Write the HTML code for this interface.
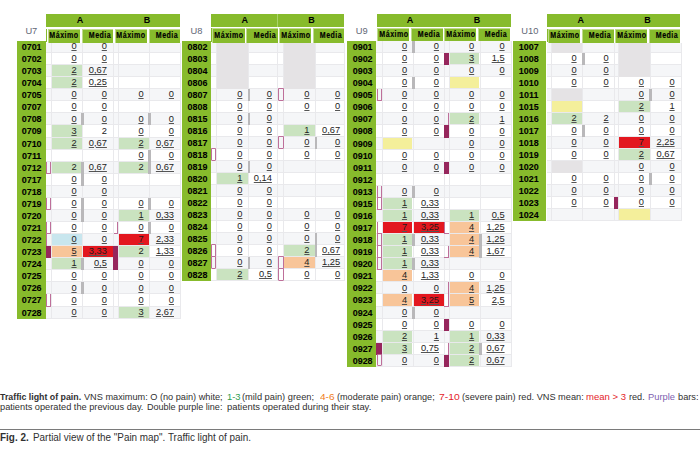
<!DOCTYPE html>
<html><head><meta charset="utf-8"><style>
html,body{margin:0;padding:0;background:#fff;width:700px;height:451px;overflow:hidden;}
body{position:relative;font-family:"Liberation Sans",sans-serif;}
body div{position:absolute;box-sizing:border-box;white-space:nowrap;}
.h1{font-weight:bold;font-size:9px;line-height:10px;color:#000;}
.h2{font-weight:bold;font-size:8.5px;line-height:10px;color:#000;transform:scaleX(0.83);letter-spacing:0.6px;-webkit-text-stroke:0.15px #000;}
.un{font-size:9.3px;line-height:11px;color:#5f6675;}
.lb{font-weight:bold;font-size:9.6px;line-height:10px;color:#000;letter-spacing:0px;-webkit-text-stroke:0.1px #000;transform:scaleX(0.93);}
.v{font-size:9.3px;line-height:10px;color:#1c1c1c;text-decoration:underline;text-decoration-color:#555;}
.v.nu{text-decoration:none;}
.cap{line-height:11px;color:#303030;}
</style></head><body>
<div style="left:46.00px;top:14.00px;width:134.00px;height:12.70px;background:#87bb2c;"></div>
<div class="h1" style="left:46.00px;top:15.20px;width:68.00px;text-align:center;">A</div>
<div class="h1" style="left:114.00px;top:15.20px;width:66.00px;text-align:center;">B</div>
<div style="left:46.00px;top:28.60px;width:1.00px;height:13.50px;background:#87bb2c;"></div>
<div style="left:47.80px;top:28.60px;width:32.20px;height:14.00px;background:#87bb2c;box-shadow:inset 1px 1px 0 rgba(235,245,215,0.55);"></div>
<div class="h2" style="left:44.30px;top:30.10px;width:40.00px;text-align:center;">M&aacute;ximo</div>
<div style="left:81.70px;top:28.60px;width:31.30px;height:14.00px;background:#87bb2c;box-shadow:inset 1px 1px 0 rgba(235,245,215,0.55);"></div>
<div class="h2" style="left:79.85px;top:30.10px;width:40.00px;text-align:center;">Media</div>
<div style="left:115.00px;top:28.60px;width:31.80px;height:14.00px;background:#87bb2c;box-shadow:inset 1px 1px 0 rgba(235,245,215,0.55);"></div>
<div class="h2" style="left:111.30px;top:30.10px;width:40.00px;text-align:center;">M&aacute;ximo</div>
<div style="left:148.60px;top:28.60px;width:31.40px;height:14.00px;background:#87bb2c;box-shadow:inset 1px 1px 0 rgba(235,245,215,0.55);"></div>
<div class="h2" style="left:146.80px;top:30.10px;width:40.00px;text-align:center;">Media</div>
<div class="un" style="left:16.70px;top:25.60px;width:29.30px;text-align:center;">U7</div>
<div style="left:16.70px;top:41.00px;width:29.30px;height:277.61px;background:#87bb2c;"></div>
<div style="left:46.00px;top:42.60px;width:134.00px;height:9.47px;background:#f5f6f8;"></div>
<div style="left:46.00px;top:52.07px;width:134.00px;height:1.00px;background:#e9e9ec;"></div>
<div class="lb" style="left:17.20px;top:42.00px;width:29.30px;text-align:center;">0701</div>
<div style="left:46.00px;top:64.14px;width:134.00px;height:1.00px;background:#e9e9ec;"></div>
<div class="lb" style="left:17.20px;top:54.07px;width:29.30px;text-align:center;">0702</div>
<div style="left:46.00px;top:65.14px;width:134.00px;height:11.07px;background:#f5f6f8;"></div>
<div style="left:46.00px;top:76.21px;width:134.00px;height:1.00px;background:#e9e9ec;"></div>
<div class="lb" style="left:17.20px;top:66.14px;width:29.30px;text-align:center;">0703</div>
<div style="left:46.00px;top:88.28px;width:134.00px;height:1.00px;background:#e9e9ec;"></div>
<div class="lb" style="left:17.20px;top:78.21px;width:29.30px;text-align:center;">0704</div>
<div style="left:46.00px;top:89.28px;width:134.00px;height:11.07px;background:#f5f6f8;"></div>
<div style="left:46.00px;top:100.35px;width:134.00px;height:1.00px;background:#e9e9ec;"></div>
<div class="lb" style="left:17.20px;top:90.28px;width:29.30px;text-align:center;">0705</div>
<div style="left:46.00px;top:112.42px;width:134.00px;height:1.00px;background:#e9e9ec;"></div>
<div class="lb" style="left:17.20px;top:102.35px;width:29.30px;text-align:center;">0707</div>
<div style="left:46.00px;top:113.42px;width:134.00px;height:11.07px;background:#f5f6f8;"></div>
<div style="left:46.00px;top:124.49px;width:134.00px;height:1.00px;background:#e9e9ec;"></div>
<div class="lb" style="left:17.20px;top:114.42px;width:29.30px;text-align:center;">0708</div>
<div style="left:46.00px;top:136.56px;width:134.00px;height:1.00px;background:#e9e9ec;"></div>
<div class="lb" style="left:17.20px;top:126.49px;width:29.30px;text-align:center;">0709</div>
<div style="left:46.00px;top:137.56px;width:134.00px;height:11.07px;background:#f5f6f8;"></div>
<div style="left:46.00px;top:148.63px;width:134.00px;height:1.00px;background:#e9e9ec;"></div>
<div class="lb" style="left:17.20px;top:138.56px;width:29.30px;text-align:center;">0710</div>
<div style="left:46.00px;top:160.70px;width:134.00px;height:1.00px;background:#e9e9ec;"></div>
<div class="lb" style="left:17.20px;top:150.63px;width:29.30px;text-align:center;">0711</div>
<div style="left:46.00px;top:161.70px;width:134.00px;height:11.07px;background:#f5f6f8;"></div>
<div style="left:46.00px;top:172.77px;width:134.00px;height:1.00px;background:#e9e9ec;"></div>
<div class="lb" style="left:17.20px;top:162.70px;width:29.30px;text-align:center;">0712</div>
<div style="left:46.00px;top:184.84px;width:134.00px;height:1.00px;background:#e9e9ec;"></div>
<div class="lb" style="left:17.20px;top:174.77px;width:29.30px;text-align:center;">0717</div>
<div style="left:46.00px;top:185.84px;width:134.00px;height:11.07px;background:#f5f6f8;"></div>
<div style="left:46.00px;top:196.91px;width:134.00px;height:1.00px;background:#e9e9ec;"></div>
<div class="lb" style="left:17.20px;top:186.84px;width:29.30px;text-align:center;">0718</div>
<div style="left:46.00px;top:208.98px;width:134.00px;height:1.00px;background:#e9e9ec;"></div>
<div class="lb" style="left:17.20px;top:198.91px;width:29.30px;text-align:center;">0719</div>
<div style="left:46.00px;top:209.98px;width:134.00px;height:11.07px;background:#f5f6f8;"></div>
<div style="left:46.00px;top:221.05px;width:134.00px;height:1.00px;background:#e9e9ec;"></div>
<div class="lb" style="left:17.20px;top:210.98px;width:29.30px;text-align:center;">0720</div>
<div style="left:46.00px;top:233.12px;width:134.00px;height:1.00px;background:#e9e9ec;"></div>
<div class="lb" style="left:17.20px;top:223.05px;width:29.30px;text-align:center;">0721</div>
<div style="left:46.00px;top:234.12px;width:134.00px;height:11.07px;background:#f5f6f8;"></div>
<div style="left:46.00px;top:245.19px;width:134.00px;height:1.00px;background:#e9e9ec;"></div>
<div class="lb" style="left:17.20px;top:235.12px;width:29.30px;text-align:center;">0722</div>
<div style="left:46.00px;top:257.26px;width:134.00px;height:1.00px;background:#e9e9ec;"></div>
<div class="lb" style="left:17.20px;top:247.19px;width:29.30px;text-align:center;">0723</div>
<div style="left:46.00px;top:258.26px;width:134.00px;height:11.07px;background:#f5f6f8;"></div>
<div style="left:46.00px;top:269.33px;width:134.00px;height:1.00px;background:#e9e9ec;"></div>
<div class="lb" style="left:17.20px;top:259.26px;width:29.30px;text-align:center;">0724</div>
<div style="left:46.00px;top:281.40px;width:134.00px;height:1.00px;background:#e9e9ec;"></div>
<div class="lb" style="left:17.20px;top:271.33px;width:29.30px;text-align:center;">0725</div>
<div style="left:46.00px;top:282.40px;width:134.00px;height:11.07px;background:#f5f6f8;"></div>
<div style="left:46.00px;top:293.47px;width:134.00px;height:1.00px;background:#e9e9ec;"></div>
<div class="lb" style="left:17.20px;top:283.40px;width:29.30px;text-align:center;">0726</div>
<div style="left:46.00px;top:305.54px;width:134.00px;height:1.00px;background:#e9e9ec;"></div>
<div class="lb" style="left:17.20px;top:295.47px;width:29.30px;text-align:center;">0727</div>
<div style="left:46.00px;top:306.54px;width:134.00px;height:11.07px;background:#f5f6f8;"></div>
<div style="left:46.00px;top:317.61px;width:134.00px;height:1.00px;background:#e9e9ec;"></div>
<div class="lb" style="left:17.20px;top:307.54px;width:29.30px;text-align:center;">0728</div>
<div style="left:51.10px;top:42.60px;width:1.00px;height:276.01px;background:#e9e9ec;"></div>
<div style="left:81.60px;top:42.60px;width:1.00px;height:276.01px;background:#e9e9ec;"></div>
<div style="left:113.20px;top:42.60px;width:1.00px;height:276.01px;background:#e9e9ec;"></div>
<div style="left:118.40px;top:42.60px;width:1.00px;height:276.01px;background:#e9e9ec;"></div>
<div style="left:148.60px;top:42.60px;width:1.00px;height:276.01px;background:#e9e9ec;"></div>
<div style="left:180.00px;top:42.60px;width:1.00px;height:276.01px;background:#e9e9ec;"></div>
<div class="v" style="left:51.10px;top:41.10px;width:25.50px;text-align:right;">0</div>
<div class="v" style="left:81.60px;top:41.10px;width:25.30px;text-align:right;">0</div>
<div class="v" style="left:51.10px;top:53.17px;width:25.50px;text-align:right;">0</div>
<div class="v" style="left:81.60px;top:53.17px;width:25.30px;text-align:right;">0</div>
<div style="left:52.10px;top:65.14px;width:29.50px;height:11.07px;background:#cae3c0;"></div>
<div class="v" style="left:51.10px;top:65.24px;width:25.50px;text-align:right;">2</div>
<div class="v" style="left:81.60px;top:65.24px;width:25.30px;text-align:right;">0,67</div>
<div style="left:52.10px;top:77.21px;width:29.50px;height:11.07px;background:#cae3c0;"></div>
<div class="v" style="left:51.10px;top:77.31px;width:25.50px;text-align:right;">2</div>
<div class="v" style="left:81.60px;top:77.31px;width:25.30px;text-align:right;">0,25</div>
<div class="v" style="left:51.10px;top:89.38px;width:25.50px;text-align:right;">0</div>
<div class="v" style="left:81.60px;top:89.38px;width:25.30px;text-align:right;">0</div>
<div class="v" style="left:118.40px;top:89.38px;width:25.20px;text-align:right;">0</div>
<div class="v" style="left:148.60px;top:89.38px;width:25.40px;text-align:right;">0</div>
<div class="v" style="left:51.10px;top:101.45px;width:25.50px;text-align:right;">0</div>
<div class="v" style="left:81.60px;top:101.45px;width:25.30px;text-align:right;">0</div>
<div class="v" style="left:51.10px;top:113.52px;width:25.50px;text-align:right;">0</div>
<div class="v" style="left:81.60px;top:113.52px;width:25.30px;text-align:right;">0</div>
<div class="v" style="left:118.40px;top:113.52px;width:25.20px;text-align:right;">0</div>
<div class="v" style="left:148.60px;top:113.52px;width:25.40px;text-align:right;">0</div>
<div style="left:81.40px;top:113.42px;width:2.60px;height:12.07px;background:#b9b8ba;"></div>
<div style="left:148.40px;top:113.42px;width:2.60px;height:12.07px;background:#b9b8ba;"></div>
<div style="left:52.10px;top:125.49px;width:29.50px;height:11.07px;background:#cae3c0;"></div>
<div class="v" style="left:51.10px;top:125.59px;width:25.50px;text-align:right;">3</div>
<div class="v nu" style="left:81.60px;top:125.59px;width:25.30px;text-align:right;">2</div>
<div class="v" style="left:118.40px;top:125.59px;width:25.20px;text-align:right;">0</div>
<div class="v" style="left:148.60px;top:125.59px;width:25.40px;text-align:right;">0</div>
<div style="left:52.10px;top:137.56px;width:29.50px;height:11.07px;background:#cae3c0;"></div>
<div class="v" style="left:51.10px;top:137.66px;width:25.50px;text-align:right;">2</div>
<div class="v" style="left:81.60px;top:137.66px;width:25.30px;text-align:right;">0,67</div>
<div style="left:119.40px;top:137.56px;width:29.20px;height:11.07px;background:#cae3c0;"></div>
<div class="v" style="left:118.40px;top:137.66px;width:25.20px;text-align:right;">2</div>
<div class="v" style="left:148.60px;top:137.66px;width:25.40px;text-align:right;">0,67</div>
<div class="v" style="left:118.40px;top:149.73px;width:25.20px;text-align:right;">0</div>
<div class="v" style="left:148.60px;top:149.73px;width:25.40px;text-align:right;">0</div>
<div style="left:148.40px;top:149.63px;width:2.60px;height:12.07px;background:#b9b8ba;"></div>
<div style="left:52.10px;top:161.70px;width:29.50px;height:11.07px;background:#cae3c0;"></div>
<div class="v nu" style="left:51.10px;top:161.80px;width:25.50px;text-align:right;">2</div>
<div class="v" style="left:81.60px;top:161.80px;width:25.30px;text-align:right;">0,67</div>
<div style="left:119.40px;top:161.70px;width:29.20px;height:11.07px;background:#cae3c0;"></div>
<div class="v nu" style="left:118.40px;top:161.80px;width:25.20px;text-align:right;">2</div>
<div class="v" style="left:148.60px;top:161.80px;width:25.40px;text-align:right;">0,67</div>
<div style="left:81.40px;top:161.70px;width:2.60px;height:12.07px;background:#b9b8ba;"></div>
<div style="left:148.40px;top:161.70px;width:2.60px;height:12.07px;background:#b9b8ba;"></div>
<div style="left:46.30px;top:161.70px;width:4.50px;height:12.07px;background:transparent;border:0 solid #be6f9a;border-left-width:1.5px;border-right-width:1.5px;border-bottom-width:1.5px;border-top-width:0px;box-sizing:border-box;border-radius:0 0 1px 1px;"></div>
<div class="v" style="left:51.10px;top:173.87px;width:25.50px;text-align:right;">0</div>
<div class="v" style="left:81.60px;top:173.87px;width:25.30px;text-align:right;">0</div>
<div style="left:81.40px;top:173.77px;width:2.60px;height:12.07px;background:#b9b8ba;"></div>
<div class="v" style="left:51.10px;top:185.94px;width:25.50px;text-align:right;">0</div>
<div class="v" style="left:81.60px;top:185.94px;width:25.30px;text-align:right;">0</div>
<div class="v" style="left:51.10px;top:198.01px;width:25.50px;text-align:right;">0</div>
<div class="v" style="left:81.60px;top:198.01px;width:25.30px;text-align:right;">0</div>
<div class="v" style="left:118.40px;top:198.01px;width:25.20px;text-align:right;">0</div>
<div class="v" style="left:148.60px;top:198.01px;width:25.40px;text-align:right;">0</div>
<div style="left:81.40px;top:197.91px;width:2.60px;height:12.07px;background:#b9b8ba;"></div>
<div style="left:148.40px;top:197.91px;width:2.60px;height:12.07px;background:#b9b8ba;"></div>
<div style="left:46.30px;top:197.91px;width:4.50px;height:12.07px;background:transparent;border:0 solid #be6f9a;border-left-width:1.5px;border-right-width:1.5px;border-bottom-width:1.5px;border-top-width:0px;box-sizing:border-box;border-radius:0 0 1px 1px;"></div>
<div class="v" style="left:51.10px;top:210.08px;width:25.50px;text-align:right;">0</div>
<div class="v" style="left:81.60px;top:210.08px;width:25.30px;text-align:right;">0</div>
<div style="left:119.40px;top:209.98px;width:29.20px;height:11.07px;background:#cae3c0;"></div>
<div class="v" style="left:118.40px;top:210.08px;width:25.20px;text-align:right;">1</div>
<div class="v" style="left:148.60px;top:210.08px;width:25.40px;text-align:right;">0,33</div>
<div style="left:81.40px;top:209.98px;width:2.60px;height:12.07px;background:#b9b8ba;"></div>
<div class="v" style="left:51.10px;top:222.15px;width:25.50px;text-align:right;">0</div>
<div class="v" style="left:81.60px;top:222.15px;width:25.30px;text-align:right;">0</div>
<div class="v" style="left:118.40px;top:222.15px;width:25.20px;text-align:right;">0</div>
<div class="v" style="left:148.60px;top:222.15px;width:25.40px;text-align:right;">0</div>
<div style="left:148.40px;top:222.05px;width:2.60px;height:12.07px;background:#b9b8ba;"></div>
<div style="left:46.30px;top:222.05px;width:4.50px;height:12.07px;background:transparent;border:0 solid #be6f9a;border-left-width:1.5px;border-right-width:1.5px;border-bottom-width:1.5px;border-top-width:0px;box-sizing:border-box;border-radius:0 0 1px 1px;"></div>
<div style="left:113.50px;top:222.05px;width:4.60px;height:12.07px;background:transparent;border:0 solid #be6f9a;border-left-width:0px;border-right-width:1.5px;border-bottom-width:1.5px;border-top-width:0px;box-sizing:border-box;"></div>
<div style="left:52.10px;top:234.12px;width:29.50px;height:11.07px;background:#c8e6ee;"></div>
<div class="v" style="left:51.10px;top:234.22px;width:25.50px;text-align:right;">0</div>
<div class="v" style="left:81.60px;top:234.22px;width:25.30px;text-align:right;">0</div>
<div style="left:119.40px;top:234.12px;width:29.20px;height:11.07px;background:#e3171f;"></div>
<div class="v" style="left:118.40px;top:234.22px;width:25.20px;text-align:right;">7</div>
<div class="v" style="left:148.60px;top:234.22px;width:25.40px;text-align:right;">2,33</div>
<div style="left:46.30px;top:234.12px;width:4.50px;height:12.07px;background:transparent;border:0 solid #be6f9a;border-left-width:1.5px;border-right-width:0px;border-bottom-width:0px;border-top-width:0px;box-sizing:border-box;"></div>
<div style="left:52.10px;top:246.19px;width:29.50px;height:11.07px;background:#f8c599;"></div>
<div class="v" style="left:51.10px;top:246.29px;width:25.50px;text-align:right;">5</div>
<div style="left:82.60px;top:246.19px;width:30.60px;height:11.07px;background:#e3171f;"></div>
<div class="v" style="left:81.60px;top:246.29px;width:25.30px;text-align:right;">3,33</div>
<div style="left:119.40px;top:246.19px;width:29.20px;height:11.07px;background:#cae3c0;"></div>
<div class="v nu" style="left:118.40px;top:246.29px;width:25.20px;text-align:right;">2</div>
<div class="v" style="left:148.60px;top:246.29px;width:25.40px;text-align:right;">1,33</div>
<div style="left:46.00px;top:246.19px;width:5.10px;height:12.07px;background:#96265c;"></div>
<div style="left:113.20px;top:246.19px;width:5.20px;height:12.07px;background:#96265c;"></div>
<div style="left:52.10px;top:258.26px;width:29.50px;height:11.07px;background:#cae3c0;"></div>
<div class="v" style="left:51.10px;top:258.36px;width:25.50px;text-align:right;">1</div>
<div class="v" style="left:81.60px;top:258.36px;width:25.30px;text-align:right;">0,5</div>
<div class="v" style="left:118.40px;top:258.36px;width:25.20px;text-align:right;">0</div>
<div class="v" style="left:148.60px;top:258.36px;width:25.40px;text-align:right;">0</div>
<div style="left:81.40px;top:258.26px;width:2.60px;height:12.07px;background:#b9b8ba;"></div>
<div style="left:113.20px;top:258.26px;width:5.20px;height:12.07px;background:#96265c;"></div>
<div class="v" style="left:51.10px;top:270.43px;width:25.50px;text-align:right;">0</div>
<div class="v" style="left:81.60px;top:270.43px;width:25.30px;text-align:right;">0</div>
<div class="v" style="left:118.40px;top:270.43px;width:25.20px;text-align:right;">0</div>
<div class="v" style="left:148.60px;top:270.43px;width:25.40px;text-align:right;">0</div>
<div class="v" style="left:51.10px;top:282.50px;width:25.50px;text-align:right;">0</div>
<div class="v" style="left:81.60px;top:282.50px;width:25.30px;text-align:right;">0</div>
<div class="v" style="left:118.40px;top:282.50px;width:25.20px;text-align:right;">0</div>
<div class="v" style="left:148.60px;top:282.50px;width:25.40px;text-align:right;">0</div>
<div style="left:81.40px;top:282.40px;width:2.60px;height:12.07px;background:#b9b8ba;"></div>
<div class="v" style="left:51.10px;top:294.57px;width:25.50px;text-align:right;">0</div>
<div class="v" style="left:81.60px;top:294.57px;width:25.30px;text-align:right;">0</div>
<div class="v" style="left:118.40px;top:294.57px;width:25.20px;text-align:right;">0</div>
<div class="v" style="left:148.60px;top:294.57px;width:25.40px;text-align:right;">0</div>
<div style="left:46.30px;top:294.47px;width:4.50px;height:12.07px;background:transparent;border:0 solid #be6f9a;border-left-width:1.5px;border-right-width:1.5px;border-bottom-width:1.5px;border-top-width:0px;box-sizing:border-box;border-radius:0 0 1px 1px;"></div>
<div class="v" style="left:51.10px;top:306.64px;width:25.50px;text-align:right;">0</div>
<div class="v" style="left:81.60px;top:306.64px;width:25.30px;text-align:right;">0</div>
<div style="left:119.40px;top:306.54px;width:29.20px;height:11.07px;background:#cae3c0;"></div>
<div class="v" style="left:118.40px;top:306.64px;width:25.20px;text-align:right;">3</div>
<div class="v" style="left:148.60px;top:306.64px;width:25.40px;text-align:right;">2,67</div>
<div style="left:210.70px;top:14.00px;width:133.60px;height:12.70px;background:#87bb2c;"></div>
<div style="left:277.20px;top:14.00px;width:1.00px;height:12.70px;background:#a9d46a;"></div>
<div class="h1" style="left:210.70px;top:15.20px;width:67.90px;text-align:center;">A</div>
<div class="h1" style="left:278.60px;top:15.20px;width:65.70px;text-align:center;">B</div>
<div style="left:210.70px;top:28.40px;width:1.00px;height:13.70px;background:#87bb2c;"></div>
<div style="left:212.00px;top:28.40px;width:32.80px;height:14.20px;background:#87bb2c;box-shadow:inset 1px 1px 0 rgba(235,245,215,0.55);"></div>
<div class="h2" style="left:208.80px;top:30.10px;width:40.00px;text-align:center;">M&aacute;ximo</div>
<div style="left:245.90px;top:28.40px;width:32.20px;height:14.20px;background:#87bb2c;box-shadow:inset 1px 1px 0 rgba(235,245,215,0.55);"></div>
<div class="h2" style="left:244.50px;top:30.10px;width:40.00px;text-align:center;">Media</div>
<div style="left:279.10px;top:28.40px;width:32.00px;height:14.20px;background:#87bb2c;box-shadow:inset 1px 1px 0 rgba(235,245,215,0.55);"></div>
<div class="h2" style="left:275.50px;top:30.10px;width:40.00px;text-align:center;">M&aacute;ximo</div>
<div style="left:312.90px;top:28.40px;width:31.40px;height:14.20px;background:#87bb2c;box-shadow:inset 1px 1px 0 rgba(235,245,215,0.55);"></div>
<div class="h2" style="left:311.10px;top:30.10px;width:40.00px;text-align:center;">Media</div>
<div class="un" style="left:182.00px;top:25.60px;width:29.00px;text-align:center;">U8</div>
<div style="left:182.00px;top:41.00px;width:29.00px;height:240.20px;background:#87bb2c;"></div>
<div style="left:211.00px;top:42.60px;width:133.30px;height:9.41px;background:#f5f6f8;"></div>
<div style="left:211.00px;top:52.01px;width:133.30px;height:1.00px;background:#e9e9ec;"></div>
<div class="lb" style="left:182.50px;top:42.00px;width:29.00px;text-align:center;">0802</div>
<div style="left:211.00px;top:64.02px;width:133.30px;height:1.00px;background:#e9e9ec;"></div>
<div class="lb" style="left:182.50px;top:54.01px;width:29.00px;text-align:center;">0803</div>
<div style="left:211.00px;top:65.02px;width:133.30px;height:11.01px;background:#f5f6f8;"></div>
<div style="left:211.00px;top:76.03px;width:133.30px;height:1.00px;background:#e9e9ec;"></div>
<div class="lb" style="left:182.50px;top:66.02px;width:29.00px;text-align:center;">0804</div>
<div style="left:211.00px;top:88.04px;width:133.30px;height:1.00px;background:#e9e9ec;"></div>
<div class="lb" style="left:182.50px;top:78.03px;width:29.00px;text-align:center;">0806</div>
<div style="left:211.00px;top:89.04px;width:133.30px;height:11.01px;background:#f5f6f8;"></div>
<div style="left:211.00px;top:100.05px;width:133.30px;height:1.00px;background:#e9e9ec;"></div>
<div class="lb" style="left:182.50px;top:90.04px;width:29.00px;text-align:center;">0807</div>
<div style="left:211.00px;top:112.06px;width:133.30px;height:1.00px;background:#e9e9ec;"></div>
<div class="lb" style="left:182.50px;top:102.05px;width:29.00px;text-align:center;">0808</div>
<div style="left:211.00px;top:113.06px;width:133.30px;height:11.01px;background:#f5f6f8;"></div>
<div style="left:211.00px;top:124.07px;width:133.30px;height:1.00px;background:#e9e9ec;"></div>
<div class="lb" style="left:182.50px;top:114.06px;width:29.00px;text-align:center;">0815</div>
<div style="left:211.00px;top:136.08px;width:133.30px;height:1.00px;background:#e9e9ec;"></div>
<div class="lb" style="left:182.50px;top:126.07px;width:29.00px;text-align:center;">0816</div>
<div style="left:211.00px;top:137.08px;width:133.30px;height:11.01px;background:#f5f6f8;"></div>
<div style="left:211.00px;top:148.09px;width:133.30px;height:1.00px;background:#e9e9ec;"></div>
<div class="lb" style="left:182.50px;top:138.08px;width:29.00px;text-align:center;">0817</div>
<div style="left:211.00px;top:160.10px;width:133.30px;height:1.00px;background:#e9e9ec;"></div>
<div class="lb" style="left:182.50px;top:150.09px;width:29.00px;text-align:center;">0818</div>
<div style="left:211.00px;top:161.10px;width:133.30px;height:11.01px;background:#f5f6f8;"></div>
<div style="left:211.00px;top:172.11px;width:133.30px;height:1.00px;background:#e9e9ec;"></div>
<div class="lb" style="left:182.50px;top:162.10px;width:29.00px;text-align:center;">0819</div>
<div style="left:211.00px;top:184.12px;width:133.30px;height:1.00px;background:#e9e9ec;"></div>
<div class="lb" style="left:182.50px;top:174.11px;width:29.00px;text-align:center;">0820</div>
<div style="left:211.00px;top:185.12px;width:133.30px;height:11.01px;background:#f5f6f8;"></div>
<div style="left:211.00px;top:196.13px;width:133.30px;height:1.00px;background:#e9e9ec;"></div>
<div class="lb" style="left:182.50px;top:186.12px;width:29.00px;text-align:center;">0821</div>
<div style="left:211.00px;top:208.14px;width:133.30px;height:1.00px;background:#e9e9ec;"></div>
<div class="lb" style="left:182.50px;top:198.13px;width:29.00px;text-align:center;">0822</div>
<div style="left:211.00px;top:209.14px;width:133.30px;height:11.01px;background:#f5f6f8;"></div>
<div style="left:211.00px;top:220.15px;width:133.30px;height:1.00px;background:#e9e9ec;"></div>
<div class="lb" style="left:182.50px;top:210.14px;width:29.00px;text-align:center;">0823</div>
<div style="left:211.00px;top:232.16px;width:133.30px;height:1.00px;background:#e9e9ec;"></div>
<div class="lb" style="left:182.50px;top:222.15px;width:29.00px;text-align:center;">0824</div>
<div style="left:211.00px;top:233.16px;width:133.30px;height:11.01px;background:#f5f6f8;"></div>
<div style="left:211.00px;top:244.17px;width:133.30px;height:1.00px;background:#e9e9ec;"></div>
<div class="lb" style="left:182.50px;top:234.16px;width:29.00px;text-align:center;">0825</div>
<div style="left:211.00px;top:256.18px;width:133.30px;height:1.00px;background:#e9e9ec;"></div>
<div class="lb" style="left:182.50px;top:246.17px;width:29.00px;text-align:center;">0826</div>
<div style="left:211.00px;top:257.18px;width:133.30px;height:11.01px;background:#f5f6f8;"></div>
<div style="left:211.00px;top:268.19px;width:133.30px;height:1.00px;background:#e9e9ec;"></div>
<div class="lb" style="left:182.50px;top:258.18px;width:29.00px;text-align:center;">0827</div>
<div style="left:211.00px;top:280.20px;width:133.30px;height:1.00px;background:#e9e9ec;"></div>
<div class="lb" style="left:182.50px;top:270.19px;width:29.00px;text-align:center;">0828</div>
<div style="left:216.00px;top:42.60px;width:1.00px;height:238.60px;background:#e9e9ec;"></div>
<div style="left:247.90px;top:42.60px;width:1.00px;height:238.60px;background:#e9e9ec;"></div>
<div style="left:277.40px;top:42.60px;width:1.00px;height:238.60px;background:#e9e9ec;"></div>
<div style="left:283.40px;top:42.60px;width:1.00px;height:238.60px;background:#e9e9ec;"></div>
<div style="left:314.90px;top:42.60px;width:1.00px;height:238.60px;background:#e9e9ec;"></div>
<div style="left:344.30px;top:42.60px;width:1.00px;height:238.60px;background:#e9e9ec;"></div>
<div style="left:217.00px;top:42.60px;width:30.90px;height:10.41px;background:#e5e3e5;"></div>
<div style="left:284.40px;top:42.60px;width:30.50px;height:10.41px;background:#e5e3e5;"></div>
<div style="left:217.00px;top:53.01px;width:30.90px;height:12.01px;background:#e5e3e5;"></div>
<div style="left:284.40px;top:53.01px;width:30.50px;height:12.01px;background:#e5e3e5;"></div>
<div style="left:217.00px;top:65.02px;width:30.90px;height:12.01px;background:#e5e3e5;"></div>
<div style="left:284.40px;top:65.02px;width:30.50px;height:12.01px;background:#e5e3e5;"></div>
<div style="left:217.00px;top:77.03px;width:30.90px;height:12.01px;background:#e5e3e5;"></div>
<div style="left:284.40px;top:77.03px;width:30.50px;height:12.01px;background:#e5e3e5;"></div>
<div class="v" style="left:216.00px;top:89.14px;width:26.40px;text-align:right;">0</div>
<div class="v" style="left:247.90px;top:89.14px;width:24.00px;text-align:right;">0</div>
<div class="v" style="left:283.40px;top:89.14px;width:26.10px;text-align:right;">0</div>
<div class="v" style="left:314.90px;top:89.14px;width:25.30px;text-align:right;">0</div>
<div style="left:247.70px;top:89.04px;width:2.60px;height:12.01px;background:#b9b8ba;"></div>
<div style="left:277.70px;top:88.14px;width:6.20px;height:12.41px;background:transparent;border:0 solid #be6f9a;border-left-width:1.5px;border-right-width:1.5px;border-bottom-width:1.5px;border-top-width:1.5px;box-sizing:border-box;border-radius:0 0 1px 1px;"></div>
<div class="v" style="left:216.00px;top:101.15px;width:26.40px;text-align:right;">0</div>
<div class="v" style="left:247.90px;top:101.15px;width:24.00px;text-align:right;">0</div>
<div class="v" style="left:283.40px;top:101.15px;width:26.10px;text-align:right;">0</div>
<div class="v" style="left:314.90px;top:101.15px;width:25.30px;text-align:right;">0</div>
<div class="v" style="left:216.00px;top:113.16px;width:26.40px;text-align:right;">0</div>
<div class="v" style="left:247.90px;top:113.16px;width:24.00px;text-align:right;">0</div>
<div style="left:247.70px;top:113.06px;width:2.60px;height:12.01px;background:#b9b8ba;"></div>
<div class="v" style="left:216.00px;top:125.17px;width:26.40px;text-align:right;">0</div>
<div class="v" style="left:247.90px;top:125.17px;width:24.00px;text-align:right;">0</div>
<div style="left:284.40px;top:125.07px;width:30.50px;height:11.01px;background:#cae3c0;"></div>
<div class="v" style="left:283.40px;top:125.17px;width:26.10px;text-align:right;">1</div>
<div class="v" style="left:314.90px;top:125.17px;width:25.30px;text-align:right;">0,67</div>
<div class="v" style="left:216.00px;top:137.18px;width:26.40px;text-align:right;">0</div>
<div class="v" style="left:247.90px;top:137.18px;width:24.00px;text-align:right;">0</div>
<div class="v" style="left:283.40px;top:137.18px;width:26.10px;text-align:right;">0</div>
<div class="v" style="left:314.90px;top:137.18px;width:25.30px;text-align:right;">0</div>
<div style="left:314.70px;top:137.08px;width:2.60px;height:12.01px;background:#b9b8ba;"></div>
<div style="left:277.70px;top:136.18px;width:6.20px;height:12.41px;background:transparent;border:0 solid #be6f9a;border-left-width:1.5px;border-right-width:1.5px;border-bottom-width:1.5px;border-top-width:1.5px;box-sizing:border-box;border-radius:0 0 1px 1px;"></div>
<div class="v" style="left:216.00px;top:149.19px;width:26.40px;text-align:right;">0</div>
<div class="v" style="left:247.90px;top:149.19px;width:24.00px;text-align:right;">0</div>
<div class="v" style="left:283.40px;top:149.19px;width:26.10px;text-align:right;">0</div>
<div class="v" style="left:314.90px;top:149.19px;width:25.30px;text-align:right;">0</div>
<div style="left:211.30px;top:148.19px;width:5.20px;height:12.41px;background:transparent;border:0 solid #be6f9a;border-left-width:1.5px;border-right-width:1.5px;border-bottom-width:1.5px;border-top-width:1.5px;box-sizing:border-box;border-radius:0 0 1px 1px;"></div>
<div class="v" style="left:216.00px;top:161.20px;width:26.40px;text-align:right;">0</div>
<div class="v" style="left:247.90px;top:161.20px;width:24.00px;text-align:right;">0</div>
<div style="left:247.70px;top:161.10px;width:2.60px;height:12.01px;background:#b9b8ba;"></div>
<div style="left:217.00px;top:173.11px;width:30.90px;height:11.01px;background:#cae3c0;"></div>
<div class="v" style="left:216.00px;top:173.21px;width:26.40px;text-align:right;">1</div>
<div class="v" style="left:247.90px;top:173.21px;width:24.00px;text-align:right;">0,14</div>
<div class="v" style="left:216.00px;top:185.22px;width:26.40px;text-align:right;">0</div>
<div class="v" style="left:247.90px;top:185.22px;width:24.00px;text-align:right;">0</div>
<div class="v" style="left:216.00px;top:197.23px;width:26.40px;text-align:right;">0</div>
<div class="v" style="left:247.90px;top:197.23px;width:24.00px;text-align:right;">0</div>
<div class="v" style="left:216.00px;top:209.24px;width:26.40px;text-align:right;">0</div>
<div class="v" style="left:247.90px;top:209.24px;width:24.00px;text-align:right;">0</div>
<div class="v" style="left:283.40px;top:209.24px;width:26.10px;text-align:right;">0</div>
<div class="v" style="left:314.90px;top:209.24px;width:25.30px;text-align:right;">0</div>
<div class="v" style="left:216.00px;top:221.25px;width:26.40px;text-align:right;">0</div>
<div class="v" style="left:247.90px;top:221.25px;width:24.00px;text-align:right;">0</div>
<div class="v" style="left:283.40px;top:221.25px;width:26.10px;text-align:right;">0</div>
<div class="v" style="left:314.90px;top:221.25px;width:25.30px;text-align:right;">0</div>
<div class="v" style="left:216.00px;top:233.26px;width:26.40px;text-align:right;">0</div>
<div class="v" style="left:247.90px;top:233.26px;width:24.00px;text-align:right;">0</div>
<div class="v" style="left:283.40px;top:233.26px;width:26.10px;text-align:right;">0</div>
<div class="v" style="left:314.90px;top:233.26px;width:25.30px;text-align:right;">0</div>
<div style="left:314.70px;top:233.16px;width:2.60px;height:12.01px;background:#b9b8ba;"></div>
<div class="v" style="left:216.00px;top:245.27px;width:26.40px;text-align:right;">0</div>
<div class="v" style="left:247.90px;top:245.27px;width:24.00px;text-align:right;">0</div>
<div style="left:284.40px;top:245.17px;width:30.50px;height:11.01px;background:#cae3c0;"></div>
<div class="v" style="left:283.40px;top:245.27px;width:26.10px;text-align:right;">2</div>
<div class="v" style="left:314.90px;top:245.27px;width:25.30px;text-align:right;">0,67</div>
<div style="left:314.70px;top:245.17px;width:2.60px;height:12.01px;background:#b9b8ba;"></div>
<div style="left:211.30px;top:244.27px;width:5.20px;height:12.41px;background:transparent;border:0 solid #be6f9a;border-left-width:1.5px;border-right-width:1.5px;border-bottom-width:1.5px;border-top-width:1.5px;box-sizing:border-box;border-radius:0 0 1px 1px;"></div>
<div class="v" style="left:216.00px;top:257.28px;width:26.40px;text-align:right;">0</div>
<div class="v" style="left:247.90px;top:257.28px;width:24.00px;text-align:right;">0</div>
<div style="left:284.40px;top:257.18px;width:30.50px;height:11.01px;background:#f8c599;"></div>
<div class="v" style="left:283.40px;top:257.28px;width:26.10px;text-align:right;">4</div>
<div class="v" style="left:314.90px;top:257.28px;width:25.30px;text-align:right;">1,25</div>
<div style="left:247.70px;top:257.18px;width:2.60px;height:12.01px;background:#b9b8ba;"></div>
<div style="left:211.30px;top:256.28px;width:5.20px;height:12.41px;background:transparent;border:0 solid #be6f9a;border-left-width:1.5px;border-right-width:1.5px;border-bottom-width:1.5px;border-top-width:1.5px;box-sizing:border-box;border-radius:0 0 1px 1px;"></div>
<div style="left:277.70px;top:256.28px;width:6.20px;height:12.41px;background:transparent;border:0 solid #be6f9a;border-left-width:1.5px;border-right-width:1.5px;border-bottom-width:1.5px;border-top-width:1.5px;box-sizing:border-box;border-radius:0 0 1px 1px;"></div>
<div style="left:217.00px;top:269.19px;width:30.90px;height:11.01px;background:#cae3c0;"></div>
<div class="v" style="left:216.00px;top:269.29px;width:26.40px;text-align:right;">2</div>
<div class="v" style="left:247.90px;top:269.29px;width:24.00px;text-align:right;">0,5</div>
<div class="v" style="left:283.40px;top:269.29px;width:26.10px;text-align:right;">0</div>
<div class="v" style="left:314.90px;top:269.29px;width:25.30px;text-align:right;">0</div>
<div style="left:277.70px;top:268.29px;width:6.20px;height:12.41px;background:transparent;border:0 solid #be6f9a;border-left-width:1.5px;border-right-width:1.5px;border-bottom-width:1.5px;border-top-width:1.5px;box-sizing:border-box;border-radius:0 0 1px 1px;"></div>
<div style="left:376.60px;top:14.00px;width:134.20px;height:12.70px;background:#87bb2c;"></div>
<div class="h1" style="left:376.60px;top:15.20px;width:66.85px;text-align:center;">A</div>
<div class="h1" style="left:443.45px;top:15.20px;width:67.35px;text-align:center;">B</div>
<div style="left:376.60px;top:28.00px;width:1.00px;height:12.90px;background:#87bb2c;"></div>
<div style="left:377.40px;top:28.00px;width:32.00px;height:13.40px;background:#87bb2c;box-shadow:inset 1px 1px 0 rgba(235,245,215,0.55);"></div>
<div class="h2" style="left:373.80px;top:29.30px;width:40.00px;text-align:center;">M&aacute;ximo</div>
<div style="left:410.90px;top:28.00px;width:32.00px;height:13.40px;background:#87bb2c;box-shadow:inset 1px 1px 0 rgba(235,245,215,0.55);"></div>
<div class="h2" style="left:409.40px;top:29.30px;width:40.00px;text-align:center;">Media</div>
<div style="left:444.00px;top:28.00px;width:32.30px;height:13.40px;background:#87bb2c;box-shadow:inset 1px 1px 0 rgba(235,245,215,0.55);"></div>
<div class="h2" style="left:440.55px;top:29.30px;width:40.00px;text-align:center;">M&aacute;ximo</div>
<div style="left:477.70px;top:28.00px;width:32.20px;height:13.40px;background:#87bb2c;box-shadow:inset 1px 1px 0 rgba(235,245,215,0.55);"></div>
<div class="h2" style="left:476.30px;top:29.30px;width:40.00px;text-align:center;">Media</div>
<div class="un" style="left:347.00px;top:25.60px;width:29.30px;text-align:center;">U9</div>
<div style="left:347.00px;top:41.00px;width:29.30px;height:325.89px;background:#87bb2c;"></div>
<div style="left:376.30px;top:41.40px;width:134.50px;height:10.67px;background:#f5f6f8;"></div>
<div style="left:376.30px;top:52.07px;width:134.50px;height:1.00px;background:#e9e9ec;"></div>
<div class="lb" style="left:347.50px;top:42.00px;width:29.30px;text-align:center;">0901</div>
<div style="left:376.30px;top:64.14px;width:134.50px;height:1.00px;background:#e9e9ec;"></div>
<div class="lb" style="left:347.50px;top:54.07px;width:29.30px;text-align:center;">0902</div>
<div style="left:376.30px;top:65.14px;width:134.50px;height:11.07px;background:#f5f6f8;"></div>
<div style="left:376.30px;top:76.21px;width:134.50px;height:1.00px;background:#e9e9ec;"></div>
<div class="lb" style="left:347.50px;top:66.14px;width:29.30px;text-align:center;">0903</div>
<div style="left:376.30px;top:88.28px;width:134.50px;height:1.00px;background:#e9e9ec;"></div>
<div class="lb" style="left:347.50px;top:78.21px;width:29.30px;text-align:center;">0904</div>
<div style="left:376.30px;top:89.28px;width:134.50px;height:11.07px;background:#f5f6f8;"></div>
<div style="left:376.30px;top:100.35px;width:134.50px;height:1.00px;background:#e9e9ec;"></div>
<div class="lb" style="left:347.50px;top:90.28px;width:29.30px;text-align:center;">0905</div>
<div style="left:376.30px;top:112.42px;width:134.50px;height:1.00px;background:#e9e9ec;"></div>
<div class="lb" style="left:347.50px;top:102.35px;width:29.30px;text-align:center;">0906</div>
<div style="left:376.30px;top:113.42px;width:134.50px;height:11.07px;background:#f5f6f8;"></div>
<div style="left:376.30px;top:124.49px;width:134.50px;height:1.00px;background:#e9e9ec;"></div>
<div class="lb" style="left:347.50px;top:114.42px;width:29.30px;text-align:center;">0907</div>
<div style="left:376.30px;top:136.56px;width:134.50px;height:1.00px;background:#e9e9ec;"></div>
<div class="lb" style="left:347.50px;top:126.49px;width:29.30px;text-align:center;">0908</div>
<div style="left:376.30px;top:137.56px;width:134.50px;height:11.07px;background:#f5f6f8;"></div>
<div style="left:376.30px;top:148.63px;width:134.50px;height:1.00px;background:#e9e9ec;"></div>
<div class="lb" style="left:347.50px;top:138.56px;width:29.30px;text-align:center;">0909</div>
<div style="left:376.30px;top:160.70px;width:134.50px;height:1.00px;background:#e9e9ec;"></div>
<div class="lb" style="left:347.50px;top:150.63px;width:29.30px;text-align:center;">0910</div>
<div style="left:376.30px;top:161.70px;width:134.50px;height:11.07px;background:#f5f6f8;"></div>
<div style="left:376.30px;top:172.77px;width:134.50px;height:1.00px;background:#e9e9ec;"></div>
<div class="lb" style="left:347.50px;top:162.70px;width:29.30px;text-align:center;">0911</div>
<div style="left:376.30px;top:184.84px;width:134.50px;height:1.00px;background:#e9e9ec;"></div>
<div class="lb" style="left:347.50px;top:174.77px;width:29.30px;text-align:center;">0912</div>
<div style="left:376.30px;top:185.84px;width:134.50px;height:11.07px;background:#f5f6f8;"></div>
<div style="left:376.30px;top:196.91px;width:134.50px;height:1.00px;background:#e9e9ec;"></div>
<div class="lb" style="left:347.50px;top:186.84px;width:29.30px;text-align:center;">0913</div>
<div style="left:376.30px;top:208.98px;width:134.50px;height:1.00px;background:#e9e9ec;"></div>
<div class="lb" style="left:347.50px;top:198.91px;width:29.30px;text-align:center;">0915</div>
<div style="left:376.30px;top:209.98px;width:134.50px;height:11.07px;background:#f5f6f8;"></div>
<div style="left:376.30px;top:221.05px;width:134.50px;height:1.00px;background:#e9e9ec;"></div>
<div class="lb" style="left:347.50px;top:210.98px;width:29.30px;text-align:center;">0916</div>
<div style="left:376.30px;top:233.12px;width:134.50px;height:1.00px;background:#e9e9ec;"></div>
<div class="lb" style="left:347.50px;top:223.05px;width:29.30px;text-align:center;">0917</div>
<div style="left:376.30px;top:234.12px;width:134.50px;height:11.07px;background:#f5f6f8;"></div>
<div style="left:376.30px;top:245.19px;width:134.50px;height:1.00px;background:#e9e9ec;"></div>
<div class="lb" style="left:347.50px;top:235.12px;width:29.30px;text-align:center;">0918</div>
<div style="left:376.30px;top:257.26px;width:134.50px;height:1.00px;background:#e9e9ec;"></div>
<div class="lb" style="left:347.50px;top:247.19px;width:29.30px;text-align:center;">0919</div>
<div style="left:376.30px;top:258.26px;width:134.50px;height:11.07px;background:#f5f6f8;"></div>
<div style="left:376.30px;top:269.33px;width:134.50px;height:1.00px;background:#e9e9ec;"></div>
<div class="lb" style="left:347.50px;top:259.26px;width:29.30px;text-align:center;">0920</div>
<div style="left:376.30px;top:281.40px;width:134.50px;height:1.00px;background:#e9e9ec;"></div>
<div class="lb" style="left:347.50px;top:271.33px;width:29.30px;text-align:center;">0921</div>
<div style="left:376.30px;top:282.40px;width:134.50px;height:11.07px;background:#f5f6f8;"></div>
<div style="left:376.30px;top:293.47px;width:134.50px;height:1.00px;background:#e9e9ec;"></div>
<div class="lb" style="left:347.50px;top:283.40px;width:29.30px;text-align:center;">0922</div>
<div style="left:376.30px;top:305.54px;width:134.50px;height:1.00px;background:#e9e9ec;"></div>
<div class="lb" style="left:347.50px;top:295.47px;width:29.30px;text-align:center;">0923</div>
<div style="left:376.30px;top:306.54px;width:134.50px;height:11.07px;background:#f5f6f8;"></div>
<div style="left:376.30px;top:317.61px;width:134.50px;height:1.00px;background:#e9e9ec;"></div>
<div class="lb" style="left:347.50px;top:307.54px;width:29.30px;text-align:center;">0924</div>
<div style="left:376.30px;top:329.68px;width:134.50px;height:1.00px;background:#e9e9ec;"></div>
<div class="lb" style="left:347.50px;top:319.61px;width:29.30px;text-align:center;">0925</div>
<div style="left:376.30px;top:330.68px;width:134.50px;height:11.07px;background:#f5f6f8;"></div>
<div style="left:376.30px;top:341.75px;width:134.50px;height:1.00px;background:#e9e9ec;"></div>
<div class="lb" style="left:347.50px;top:331.68px;width:29.30px;text-align:center;">0926</div>
<div style="left:376.30px;top:353.82px;width:134.50px;height:1.00px;background:#e9e9ec;"></div>
<div class="lb" style="left:347.50px;top:343.75px;width:29.30px;text-align:center;">0927</div>
<div style="left:376.30px;top:354.82px;width:134.50px;height:11.07px;background:#f5f6f8;"></div>
<div style="left:376.30px;top:365.89px;width:134.50px;height:1.00px;background:#e9e9ec;"></div>
<div class="lb" style="left:347.50px;top:355.82px;width:29.30px;text-align:center;">0928</div>
<div style="left:381.90px;top:41.40px;width:1.00px;height:325.49px;background:#e9e9ec;"></div>
<div style="left:412.50px;top:41.40px;width:1.00px;height:325.49px;background:#e9e9ec;"></div>
<div style="left:443.80px;top:41.40px;width:1.00px;height:325.49px;background:#e9e9ec;"></div>
<div style="left:448.90px;top:41.40px;width:1.00px;height:325.49px;background:#e9e9ec;"></div>
<div style="left:479.50px;top:41.40px;width:1.00px;height:325.49px;background:#e9e9ec;"></div>
<div style="left:510.80px;top:41.40px;width:1.00px;height:325.49px;background:#e9e9ec;"></div>
<div class="v" style="left:381.90px;top:41.10px;width:25.20px;text-align:right;">0</div>
<div class="v" style="left:412.50px;top:41.10px;width:26.50px;text-align:right;">0</div>
<div class="v" style="left:448.90px;top:41.10px;width:25.30px;text-align:right;">0</div>
<div class="v" style="left:479.50px;top:41.10px;width:25.10px;text-align:right;">0</div>
<div style="left:412.30px;top:41.00px;width:2.60px;height:12.07px;background:#b9b8ba;"></div>
<div class="v" style="left:381.90px;top:53.17px;width:25.20px;text-align:right;">0</div>
<div class="v" style="left:412.50px;top:53.17px;width:26.50px;text-align:right;">0</div>
<div style="left:449.90px;top:53.07px;width:29.60px;height:11.07px;background:#cae3c0;"></div>
<div class="v" style="left:448.90px;top:53.17px;width:25.30px;text-align:right;">3</div>
<div class="v" style="left:479.50px;top:53.17px;width:25.10px;text-align:right;">1,5</div>
<div style="left:443.80px;top:53.07px;width:5.10px;height:12.07px;background:#96265c;"></div>
<div class="v" style="left:381.90px;top:65.24px;width:25.20px;text-align:right;">0</div>
<div class="v" style="left:412.50px;top:65.24px;width:26.50px;text-align:right;">0</div>
<div class="v" style="left:448.90px;top:65.24px;width:25.30px;text-align:right;">0</div>
<div class="v" style="left:479.50px;top:65.24px;width:25.10px;text-align:right;">0</div>
<div class="v" style="left:381.90px;top:77.31px;width:25.20px;text-align:right;">0</div>
<div class="v" style="left:412.50px;top:77.31px;width:26.50px;text-align:right;">0</div>
<div style="left:449.90px;top:77.21px;width:29.60px;height:11.07px;background:#f4ef9b;"></div>
<div style="left:412.30px;top:77.21px;width:2.60px;height:12.07px;background:#b9b8ba;"></div>
<div class="v" style="left:381.90px;top:89.38px;width:25.20px;text-align:right;">0</div>
<div class="v" style="left:412.50px;top:89.38px;width:26.50px;text-align:right;">0</div>
<div class="v" style="left:448.90px;top:89.38px;width:25.30px;text-align:right;">0</div>
<div class="v" style="left:479.50px;top:89.38px;width:25.10px;text-align:right;">0</div>
<div style="left:376.60px;top:89.28px;width:5.00px;height:12.07px;background:transparent;border:0 solid #be6f9a;border-left-width:1.5px;border-right-width:1.5px;border-bottom-width:1.5px;border-top-width:0px;box-sizing:border-box;border-radius:0 0 1px 1px;"></div>
<div class="v" style="left:381.90px;top:101.45px;width:25.20px;text-align:right;">0</div>
<div class="v" style="left:412.50px;top:101.45px;width:26.50px;text-align:right;">0</div>
<div class="v" style="left:448.90px;top:101.45px;width:25.30px;text-align:right;">0</div>
<div class="v" style="left:479.50px;top:101.45px;width:25.10px;text-align:right;">0</div>
<div class="v" style="left:381.90px;top:113.52px;width:25.20px;text-align:right;">0</div>
<div class="v" style="left:412.50px;top:113.52px;width:26.50px;text-align:right;">0</div>
<div style="left:449.90px;top:113.42px;width:29.60px;height:11.07px;background:#cae3c0;"></div>
<div class="v" style="left:448.90px;top:113.52px;width:25.30px;text-align:right;">2</div>
<div class="v" style="left:479.50px;top:113.52px;width:25.10px;text-align:right;">1</div>
<div style="left:444.10px;top:113.42px;width:4.50px;height:12.07px;background:transparent;border:0 solid #be6f9a;border-left-width:0px;border-right-width:1.5px;border-bottom-width:0px;border-top-width:0px;box-sizing:border-box;"></div>
<div class="v" style="left:381.90px;top:125.59px;width:25.20px;text-align:right;">0</div>
<div class="v" style="left:412.50px;top:125.59px;width:26.50px;text-align:right;">0</div>
<div class="v" style="left:448.90px;top:125.59px;width:25.30px;text-align:right;">0</div>
<div class="v" style="left:479.50px;top:125.59px;width:25.10px;text-align:right;">0</div>
<div style="left:443.80px;top:125.49px;width:5.10px;height:12.07px;background:#96265c;"></div>
<div style="left:382.90px;top:137.56px;width:29.60px;height:11.07px;background:#f4ef9b;"></div>
<div class="v" style="left:448.90px;top:137.66px;width:25.30px;text-align:right;">0</div>
<div class="v" style="left:479.50px;top:137.66px;width:25.10px;text-align:right;">0</div>
<div class="v" style="left:381.90px;top:149.73px;width:25.20px;text-align:right;">0</div>
<div class="v" style="left:412.50px;top:149.73px;width:26.50px;text-align:right;">0</div>
<div class="v" style="left:448.90px;top:149.73px;width:25.30px;text-align:right;">0</div>
<div class="v" style="left:479.50px;top:149.73px;width:25.10px;text-align:right;">0</div>
<div class="v" style="left:381.90px;top:161.80px;width:25.20px;text-align:right;">0</div>
<div class="v" style="left:412.50px;top:161.80px;width:26.50px;text-align:right;">0</div>
<div class="v" style="left:448.90px;top:161.80px;width:25.30px;text-align:right;">0</div>
<div class="v" style="left:479.50px;top:161.80px;width:25.10px;text-align:right;">0</div>
<div style="left:443.80px;top:161.70px;width:5.10px;height:12.07px;background:#96265c;"></div>
<div class="v" style="left:381.90px;top:185.94px;width:25.20px;text-align:right;">0</div>
<div class="v" style="left:412.50px;top:185.94px;width:26.50px;text-align:right;">0</div>
<div style="left:412.30px;top:185.84px;width:2.60px;height:12.07px;background:#b9b8ba;"></div>
<div style="left:376.60px;top:185.84px;width:5.00px;height:12.07px;background:transparent;border:0 solid #be6f9a;border-left-width:1.5px;border-right-width:1.5px;border-bottom-width:1.5px;border-top-width:0px;box-sizing:border-box;border-radius:0 0 1px 1px;"></div>
<div style="left:382.90px;top:197.91px;width:29.60px;height:11.07px;background:#cae3c0;"></div>
<div class="v" style="left:381.90px;top:198.01px;width:25.20px;text-align:right;">1</div>
<div class="v" style="left:412.50px;top:198.01px;width:26.50px;text-align:right;">0,33</div>
<div style="left:376.60px;top:197.91px;width:5.00px;height:12.07px;background:transparent;border:0 solid #be6f9a;border-left-width:1.5px;border-right-width:1.5px;border-bottom-width:1.5px;border-top-width:0px;box-sizing:border-box;border-radius:0 0 1px 1px;"></div>
<div style="left:382.90px;top:209.98px;width:29.60px;height:11.07px;background:#cae3c0;"></div>
<div class="v" style="left:381.90px;top:210.08px;width:25.20px;text-align:right;">1</div>
<div class="v" style="left:412.50px;top:210.08px;width:26.50px;text-align:right;">0,33</div>
<div style="left:449.90px;top:209.98px;width:29.60px;height:11.07px;background:#cae3c0;"></div>
<div class="v" style="left:448.90px;top:210.08px;width:25.30px;text-align:right;">1</div>
<div class="v" style="left:479.50px;top:210.08px;width:25.10px;text-align:right;">0,5</div>
<div style="left:382.90px;top:222.05px;width:29.60px;height:11.07px;background:#e3171f;"></div>
<div class="v" style="left:381.90px;top:222.15px;width:25.20px;text-align:right;">7</div>
<div style="left:413.50px;top:222.05px;width:30.30px;height:11.07px;background:#e3171f;"></div>
<div class="v" style="left:412.50px;top:222.15px;width:26.50px;text-align:right;">3,25</div>
<div style="left:449.90px;top:222.05px;width:29.60px;height:11.07px;background:#f8c599;"></div>
<div class="v" style="left:448.90px;top:222.15px;width:25.30px;text-align:right;">4</div>
<div class="v" style="left:479.50px;top:222.15px;width:25.10px;text-align:right;">1,25</div>
<div style="left:376.60px;top:222.05px;width:5.00px;height:12.07px;background:transparent;border:0 solid #be6f9a;border-left-width:1.5px;border-right-width:0px;border-bottom-width:1.5px;border-top-width:0px;box-sizing:border-box;"></div>
<div style="left:444.10px;top:222.05px;width:4.50px;height:12.07px;background:transparent;border:0 solid #be6f9a;border-left-width:1.5px;border-right-width:0px;border-bottom-width:1.5px;border-top-width:0px;box-sizing:border-box;"></div>
<div style="left:382.90px;top:234.12px;width:29.60px;height:11.07px;background:#cae3c0;"></div>
<div class="v" style="left:381.90px;top:234.22px;width:25.20px;text-align:right;">1</div>
<div class="v" style="left:412.50px;top:234.22px;width:26.50px;text-align:right;">0,33</div>
<div style="left:449.90px;top:234.12px;width:29.60px;height:11.07px;background:#f8c599;"></div>
<div class="v" style="left:448.90px;top:234.22px;width:25.30px;text-align:right;">4</div>
<div class="v" style="left:479.50px;top:234.22px;width:25.10px;text-align:right;">1,25</div>
<div style="left:412.30px;top:234.12px;width:2.60px;height:12.07px;background:#b9b8ba;"></div>
<div style="left:479.30px;top:234.12px;width:2.60px;height:12.07px;background:#b9b8ba;"></div>
<div style="left:376.60px;top:234.12px;width:5.00px;height:12.07px;background:transparent;border:0 solid #be6f9a;border-left-width:1.5px;border-right-width:1.5px;border-bottom-width:1.5px;border-top-width:0px;box-sizing:border-box;border-radius:0 0 1px 1px;"></div>
<div style="left:382.90px;top:246.19px;width:29.60px;height:11.07px;background:#cae3c0;"></div>
<div class="v" style="left:381.90px;top:246.29px;width:25.20px;text-align:right;">1</div>
<div class="v" style="left:412.50px;top:246.29px;width:26.50px;text-align:right;">0,33</div>
<div style="left:449.90px;top:246.19px;width:29.60px;height:11.07px;background:#f8c599;"></div>
<div class="v" style="left:448.90px;top:246.29px;width:25.30px;text-align:right;">4</div>
<div class="v" style="left:479.50px;top:246.29px;width:25.10px;text-align:right;">1,67</div>
<div style="left:479.30px;top:246.19px;width:2.60px;height:12.07px;background:#b9b8ba;"></div>
<div style="left:376.60px;top:246.19px;width:5.00px;height:12.07px;background:transparent;border:0 solid #be6f9a;border-left-width:1.5px;border-right-width:1.5px;border-bottom-width:1.5px;border-top-width:0px;box-sizing:border-box;border-radius:0 0 1px 1px;"></div>
<div style="left:444.10px;top:246.19px;width:4.50px;height:12.07px;background:transparent;border:0 solid #be6f9a;border-left-width:0px;border-right-width:1.5px;border-bottom-width:1.5px;border-top-width:0px;box-sizing:border-box;"></div>
<div style="left:382.90px;top:258.26px;width:29.60px;height:11.07px;background:#cae3c0;"></div>
<div class="v" style="left:381.90px;top:258.36px;width:25.20px;text-align:right;">1</div>
<div class="v" style="left:412.50px;top:258.36px;width:26.50px;text-align:right;">0,33</div>
<div style="left:412.30px;top:258.26px;width:2.60px;height:12.07px;background:#b9b8ba;"></div>
<div style="left:376.60px;top:258.26px;width:5.00px;height:12.07px;background:transparent;border:0 solid #be6f9a;border-left-width:1.5px;border-right-width:1.5px;border-bottom-width:1.5px;border-top-width:0px;box-sizing:border-box;border-radius:0 0 1px 1px;"></div>
<div style="left:382.90px;top:270.33px;width:29.60px;height:11.07px;background:#f8c599;"></div>
<div class="v" style="left:381.90px;top:270.43px;width:25.20px;text-align:right;">4</div>
<div class="v" style="left:412.50px;top:270.43px;width:26.50px;text-align:right;">1,33</div>
<div class="v" style="left:448.90px;top:270.43px;width:25.30px;text-align:right;">0</div>
<div class="v" style="left:479.50px;top:270.43px;width:25.10px;text-align:right;">0</div>
<div class="v" style="left:381.90px;top:282.50px;width:25.20px;text-align:right;">0</div>
<div class="v" style="left:412.50px;top:282.50px;width:26.50px;text-align:right;">0</div>
<div style="left:449.90px;top:282.40px;width:29.60px;height:11.07px;background:#f8c599;"></div>
<div class="v" style="left:448.90px;top:282.50px;width:25.30px;text-align:right;">4</div>
<div class="v" style="left:479.50px;top:282.50px;width:25.10px;text-align:right;">1,25</div>
<div style="left:444.10px;top:282.40px;width:4.50px;height:12.07px;background:transparent;border:0 solid #be6f9a;border-left-width:0px;border-right-width:1.5px;border-bottom-width:0px;border-top-width:0px;box-sizing:border-box;"></div>
<div style="left:382.90px;top:294.47px;width:29.60px;height:11.07px;background:#f8c599;"></div>
<div class="v" style="left:381.90px;top:294.57px;width:25.20px;text-align:right;">4</div>
<div style="left:413.50px;top:294.47px;width:30.30px;height:11.07px;background:#e3171f;"></div>
<div class="v" style="left:412.50px;top:294.57px;width:26.50px;text-align:right;">3,25</div>
<div style="left:449.90px;top:294.47px;width:29.60px;height:11.07px;background:#f8c599;"></div>
<div class="v" style="left:448.90px;top:294.57px;width:25.30px;text-align:right;">5</div>
<div class="v" style="left:479.50px;top:294.57px;width:25.10px;text-align:right;">2,5</div>
<div style="left:444.10px;top:294.47px;width:4.50px;height:12.07px;background:transparent;border:0 solid #be6f9a;border-left-width:0px;border-right-width:1.5px;border-bottom-width:1.5px;border-top-width:0px;box-sizing:border-box;"></div>
<div class="v" style="left:381.90px;top:306.64px;width:25.20px;text-align:right;">0</div>
<div class="v" style="left:412.50px;top:306.64px;width:26.50px;text-align:right;">0</div>
<div style="left:412.30px;top:306.54px;width:2.60px;height:12.07px;background:#b9b8ba;"></div>
<div class="v" style="left:381.90px;top:318.71px;width:25.20px;text-align:right;">0</div>
<div class="v" style="left:412.50px;top:318.71px;width:26.50px;text-align:right;">0</div>
<div class="v" style="left:448.90px;top:318.71px;width:25.30px;text-align:right;">0</div>
<div class="v" style="left:479.50px;top:318.71px;width:25.10px;text-align:right;">0</div>
<div style="left:443.80px;top:318.61px;width:5.10px;height:12.07px;background:#96265c;"></div>
<div style="left:382.90px;top:330.68px;width:29.60px;height:11.07px;background:#cae3c0;"></div>
<div class="v" style="left:381.90px;top:330.78px;width:25.20px;text-align:right;">2</div>
<div class="v" style="left:412.50px;top:330.78px;width:26.50px;text-align:right;">1</div>
<div style="left:449.90px;top:330.68px;width:29.60px;height:11.07px;background:#cae3c0;"></div>
<div class="v" style="left:448.90px;top:330.78px;width:25.30px;text-align:right;">1</div>
<div class="v" style="left:479.50px;top:330.78px;width:25.10px;text-align:right;">0,33</div>
<div style="left:382.90px;top:342.75px;width:29.60px;height:11.07px;background:#cae3c0;"></div>
<div class="v" style="left:381.90px;top:342.85px;width:25.20px;text-align:right;">3</div>
<div class="v" style="left:412.50px;top:342.85px;width:26.50px;text-align:right;">0,75</div>
<div style="left:449.90px;top:342.75px;width:29.60px;height:11.07px;background:#cae3c0;"></div>
<div class="v" style="left:448.90px;top:342.85px;width:25.30px;text-align:right;">2</div>
<div class="v" style="left:479.50px;top:342.85px;width:25.10px;text-align:right;">0,67</div>
<div style="left:479.30px;top:342.75px;width:2.60px;height:12.07px;background:#b9b8ba;"></div>
<div style="left:376.30px;top:342.75px;width:5.60px;height:12.07px;background:#96265c;"></div>
<div style="left:444.10px;top:342.75px;width:4.50px;height:12.07px;background:transparent;border:0 solid #be6f9a;border-left-width:0px;border-right-width:1.5px;border-bottom-width:0px;border-top-width:0px;box-sizing:border-box;"></div>
<div class="v" style="left:381.90px;top:354.92px;width:25.20px;text-align:right;">0</div>
<div class="v" style="left:412.50px;top:354.92px;width:26.50px;text-align:right;">0</div>
<div style="left:449.90px;top:354.82px;width:29.60px;height:11.07px;background:#cae3c0;"></div>
<div class="v" style="left:448.90px;top:354.92px;width:25.30px;text-align:right;">2</div>
<div class="v" style="left:479.50px;top:354.92px;width:25.10px;text-align:right;">0,67</div>
<div style="left:376.60px;top:353.92px;width:5.80px;height:12.47px;background:transparent;border:0 solid #be6f9a;border-left-width:1.5px;border-right-width:1.5px;border-bottom-width:1.5px;border-top-width:1.5px;box-sizing:border-box;border-radius:0 0 1px 1px;"></div>
<div style="left:443.80px;top:354.82px;width:5.10px;height:12.07px;background:#96265c;"></div>
<div style="left:547.10px;top:14.00px;width:133.40px;height:12.70px;background:#87bb2c;"></div>
<div class="h1" style="left:547.10px;top:15.20px;width:67.40px;text-align:center;">A</div>
<div class="h1" style="left:614.50px;top:15.20px;width:66.00px;text-align:center;">B</div>
<div style="left:547.10px;top:28.60px;width:1.00px;height:13.50px;background:#87bb2c;"></div>
<div style="left:548.20px;top:28.60px;width:32.00px;height:14.00px;background:#87bb2c;box-shadow:inset 1px 1px 0 rgba(235,245,215,0.55);"></div>
<div class="h2" style="left:544.60px;top:30.10px;width:40.00px;text-align:center;">M&aacute;ximo</div>
<div style="left:581.70px;top:28.60px;width:32.00px;height:14.00px;background:#87bb2c;box-shadow:inset 1px 1px 0 rgba(235,245,215,0.55);"></div>
<div class="h2" style="left:580.20px;top:30.10px;width:40.00px;text-align:center;">Media</div>
<div style="left:615.30px;top:28.60px;width:32.00px;height:14.00px;background:#87bb2c;box-shadow:inset 1px 1px 0 rgba(235,245,215,0.55);"></div>
<div class="h2" style="left:611.70px;top:30.10px;width:40.00px;text-align:center;">M&aacute;ximo</div>
<div style="left:649.00px;top:28.60px;width:31.40px;height:14.00px;background:#87bb2c;box-shadow:inset 1px 1px 0 rgba(235,245,215,0.55);"></div>
<div class="h2" style="left:647.20px;top:30.10px;width:40.00px;text-align:center;">Media</div>
<div class="un" style="left:513.10px;top:25.60px;width:33.40px;text-align:center;">U10</div>
<div style="left:513.10px;top:41.00px;width:33.40px;height:180.45px;background:#87bb2c;"></div>
<div style="left:546.50px;top:42.60px;width:134.00px;height:9.43px;background:#f5f6f8;"></div>
<div style="left:546.50px;top:52.03px;width:134.00px;height:1.00px;background:#e9e9ec;"></div>
<div class="lb" style="left:511.80px;top:42.00px;width:33.40px;text-align:center;">1007</div>
<div style="left:546.50px;top:64.06px;width:134.00px;height:1.00px;background:#e9e9ec;"></div>
<div class="lb" style="left:511.80px;top:54.03px;width:33.40px;text-align:center;">1008</div>
<div style="left:546.50px;top:65.06px;width:134.00px;height:11.03px;background:#f5f6f8;"></div>
<div style="left:546.50px;top:76.09px;width:134.00px;height:1.00px;background:#e9e9ec;"></div>
<div class="lb" style="left:511.80px;top:66.06px;width:33.40px;text-align:center;">1009</div>
<div style="left:546.50px;top:88.12px;width:134.00px;height:1.00px;background:#e9e9ec;"></div>
<div class="lb" style="left:511.80px;top:78.09px;width:33.40px;text-align:center;">1010</div>
<div style="left:546.50px;top:89.12px;width:134.00px;height:11.03px;background:#f5f6f8;"></div>
<div style="left:546.50px;top:100.15px;width:134.00px;height:1.00px;background:#e9e9ec;"></div>
<div class="lb" style="left:511.80px;top:90.12px;width:33.40px;text-align:center;">1011</div>
<div style="left:546.50px;top:112.18px;width:134.00px;height:1.00px;background:#e9e9ec;"></div>
<div class="lb" style="left:511.80px;top:102.15px;width:33.40px;text-align:center;">1015</div>
<div style="left:546.50px;top:113.18px;width:134.00px;height:11.03px;background:#f5f6f8;"></div>
<div style="left:546.50px;top:124.21px;width:134.00px;height:1.00px;background:#e9e9ec;"></div>
<div class="lb" style="left:511.80px;top:114.18px;width:33.40px;text-align:center;">1016</div>
<div style="left:546.50px;top:136.24px;width:134.00px;height:1.00px;background:#e9e9ec;"></div>
<div class="lb" style="left:511.80px;top:126.21px;width:33.40px;text-align:center;">1017</div>
<div style="left:546.50px;top:137.24px;width:134.00px;height:11.03px;background:#f5f6f8;"></div>
<div style="left:546.50px;top:148.27px;width:134.00px;height:1.00px;background:#e9e9ec;"></div>
<div class="lb" style="left:511.80px;top:138.24px;width:33.40px;text-align:center;">1018</div>
<div style="left:546.50px;top:160.30px;width:134.00px;height:1.00px;background:#e9e9ec;"></div>
<div class="lb" style="left:511.80px;top:150.27px;width:33.40px;text-align:center;">1019</div>
<div style="left:546.50px;top:161.30px;width:134.00px;height:11.03px;background:#f5f6f8;"></div>
<div style="left:546.50px;top:172.33px;width:134.00px;height:1.00px;background:#e9e9ec;"></div>
<div class="lb" style="left:511.80px;top:162.30px;width:33.40px;text-align:center;">1020</div>
<div style="left:546.50px;top:184.36px;width:134.00px;height:1.00px;background:#e9e9ec;"></div>
<div class="lb" style="left:511.80px;top:174.33px;width:33.40px;text-align:center;">1021</div>
<div style="left:546.50px;top:185.36px;width:134.00px;height:11.03px;background:#f5f6f8;"></div>
<div style="left:546.50px;top:196.39px;width:134.00px;height:1.00px;background:#e9e9ec;"></div>
<div class="lb" style="left:511.80px;top:186.36px;width:33.40px;text-align:center;">1022</div>
<div style="left:546.50px;top:208.42px;width:134.00px;height:1.00px;background:#e9e9ec;"></div>
<div class="lb" style="left:511.80px;top:198.39px;width:33.40px;text-align:center;">1023</div>
<div style="left:546.50px;top:209.42px;width:134.00px;height:11.03px;background:#f5f6f8;"></div>
<div style="left:546.50px;top:220.45px;width:134.00px;height:1.00px;background:#e9e9ec;"></div>
<div class="lb" style="left:511.80px;top:210.42px;width:33.40px;text-align:center;">1024</div>
<div style="left:551.40px;top:42.60px;width:1.00px;height:178.85px;background:#e9e9ec;"></div>
<div style="left:582.30px;top:42.60px;width:1.00px;height:178.85px;background:#e9e9ec;"></div>
<div style="left:613.50px;top:42.60px;width:1.00px;height:178.85px;background:#e9e9ec;"></div>
<div style="left:618.00px;top:42.60px;width:1.00px;height:178.85px;background:#e9e9ec;"></div>
<div style="left:649.50px;top:42.60px;width:1.00px;height:178.85px;background:#e9e9ec;"></div>
<div style="left:680.50px;top:42.60px;width:1.00px;height:178.85px;background:#e9e9ec;"></div>
<div style="left:552.40px;top:42.60px;width:29.90px;height:10.43px;background:#e5e3e5;"></div>
<div style="left:619.00px;top:42.60px;width:30.50px;height:10.43px;background:#e5e3e5;"></div>
<div class="v" style="left:551.40px;top:53.13px;width:25.20px;text-align:right;">0</div>
<div class="v" style="left:582.30px;top:53.13px;width:26.40px;text-align:right;">0</div>
<div style="left:619.00px;top:53.03px;width:30.50px;height:12.03px;background:#e5e3e5;"></div>
<div style="left:582.10px;top:53.03px;width:2.60px;height:12.03px;background:#b9b8ba;"></div>
<div class="v" style="left:551.40px;top:65.16px;width:25.20px;text-align:right;">0</div>
<div class="v" style="left:582.30px;top:65.16px;width:26.40px;text-align:right;">0</div>
<div style="left:619.00px;top:65.06px;width:30.50px;height:12.03px;background:#e5e3e5;"></div>
<div class="v" style="left:551.40px;top:77.19px;width:25.20px;text-align:right;">0</div>
<div class="v" style="left:582.30px;top:77.19px;width:26.40px;text-align:right;">0</div>
<div class="v" style="left:618.00px;top:77.19px;width:26.00px;text-align:right;">0</div>
<div class="v" style="left:649.50px;top:77.19px;width:25.10px;text-align:right;">0</div>
<div style="left:552.40px;top:89.12px;width:29.90px;height:12.03px;background:#e5e3e5;"></div>
<div class="v" style="left:618.00px;top:89.22px;width:26.00px;text-align:right;">0</div>
<div class="v" style="left:649.50px;top:89.22px;width:25.10px;text-align:right;">0</div>
<div style="left:649.30px;top:89.12px;width:2.60px;height:12.03px;background:#b9b8ba;"></div>
<div style="left:552.40px;top:101.15px;width:29.90px;height:11.03px;background:#f4ef9b;"></div>
<div style="left:619.00px;top:101.15px;width:30.50px;height:11.03px;background:#cae3c0;"></div>
<div class="v" style="left:618.00px;top:101.25px;width:26.00px;text-align:right;">2</div>
<div class="v" style="left:649.50px;top:101.25px;width:25.10px;text-align:right;">1</div>
<div style="left:552.40px;top:113.18px;width:29.90px;height:11.03px;background:#cae3c0;"></div>
<div class="v" style="left:551.40px;top:113.28px;width:25.20px;text-align:right;">2</div>
<div class="v" style="left:582.30px;top:113.28px;width:26.40px;text-align:right;">2</div>
<div class="v" style="left:618.00px;top:113.28px;width:26.00px;text-align:right;">0</div>
<div class="v" style="left:649.50px;top:113.28px;width:25.10px;text-align:right;">0</div>
<div class="v" style="left:551.40px;top:125.31px;width:25.20px;text-align:right;">0</div>
<div class="v" style="left:582.30px;top:125.31px;width:26.40px;text-align:right;">0</div>
<div class="v" style="left:618.00px;top:125.31px;width:26.00px;text-align:right;">0</div>
<div class="v" style="left:649.50px;top:125.31px;width:25.10px;text-align:right;">0</div>
<div style="left:582.10px;top:125.21px;width:2.60px;height:12.03px;background:#b9b8ba;"></div>
<div class="v" style="left:551.40px;top:137.34px;width:25.20px;text-align:right;">0</div>
<div class="v" style="left:582.30px;top:137.34px;width:26.40px;text-align:right;">0</div>
<div style="left:619.00px;top:137.24px;width:30.50px;height:11.03px;background:#e3171f;"></div>
<div class="v" style="left:618.00px;top:137.34px;width:26.00px;text-align:right;">7</div>
<div class="v" style="left:649.50px;top:137.34px;width:25.10px;text-align:right;">2,25</div>
<div class="v" style="left:551.40px;top:149.37px;width:25.20px;text-align:right;">0</div>
<div class="v" style="left:582.30px;top:149.37px;width:26.40px;text-align:right;">0</div>
<div style="left:619.00px;top:149.27px;width:30.50px;height:11.03px;background:#cae3c0;"></div>
<div class="v" style="left:618.00px;top:149.37px;width:26.00px;text-align:right;">2</div>
<div class="v" style="left:649.50px;top:149.37px;width:25.10px;text-align:right;">0,67</div>
<div style="left:552.40px;top:161.30px;width:29.90px;height:12.03px;background:#e5e3e5;"></div>
<div class="v" style="left:618.00px;top:161.40px;width:26.00px;text-align:right;">0</div>
<div class="v" style="left:649.50px;top:161.40px;width:25.10px;text-align:right;">0</div>
<div class="v" style="left:551.40px;top:173.43px;width:25.20px;text-align:right;">0</div>
<div class="v" style="left:582.30px;top:173.43px;width:26.40px;text-align:right;">0</div>
<div class="v" style="left:618.00px;top:173.43px;width:26.00px;text-align:right;">0</div>
<div class="v" style="left:649.50px;top:173.43px;width:25.10px;text-align:right;">0</div>
<div style="left:649.30px;top:173.33px;width:2.60px;height:12.03px;background:#b9b8ba;"></div>
<div class="v" style="left:551.40px;top:185.46px;width:25.20px;text-align:right;">0</div>
<div class="v" style="left:582.30px;top:185.46px;width:26.40px;text-align:right;">0</div>
<div class="v" style="left:618.00px;top:185.46px;width:26.00px;text-align:right;">0</div>
<div class="v" style="left:649.50px;top:185.46px;width:25.10px;text-align:right;">0</div>
<div class="v" style="left:551.40px;top:197.49px;width:25.20px;text-align:right;">0</div>
<div class="v" style="left:582.30px;top:197.49px;width:26.40px;text-align:right;">0</div>
<div class="v" style="left:618.00px;top:197.49px;width:26.00px;text-align:right;">0</div>
<div class="v" style="left:649.50px;top:197.49px;width:25.10px;text-align:right;">0</div>
<div style="left:613.50px;top:197.39px;width:4.50px;height:12.03px;background:#96265c;"></div>
<div style="left:619.00px;top:209.42px;width:30.50px;height:11.03px;background:#f4ef9b;"></div>
<div class="cap" style="left:-0.40px;top:390.90px;font-size:9.5px;transform:scaleX(0.9259);transform-origin:0 0;"><b>Traffic light of pain.</b></div>
<div class="cap" style="left:84.00px;top:390.90px;font-size:9.5px;transform:scaleX(0.9656);transform-origin:0 0;">VNS maximum: O (no pain) white;</div>
<div class="cap" style="left:226.50px;top:390.90px;font-size:9.5px;transform:scaleX(0.9873);transform-origin:0 0;color:#2e9e4f;">1-3</div>
<div class="cap" style="left:241.90px;top:390.90px;font-size:9.5px;transform:scaleX(0.9742);transform-origin:0 0;">(mild pain) green;</div>
<div class="cap" style="left:319.90px;top:390.90px;font-size:9.5px;transform:scaleX(1.0599);transform-origin:0 0;color:#ef7d22;">4-6</div>
<div class="cap" style="left:336.50px;top:390.90px;font-size:9.5px;transform:scaleX(0.9585);transform-origin:0 0;">(moderate pain) orange;</div>
<div class="cap" style="left:439.40px;top:390.90px;font-size:9.5px;transform:scaleX(1.0895);transform-origin:0 0;color:#e5232b;">7-10</div>
<div class="cap" style="left:461.90px;top:390.90px;font-size:9.5px;transform:scaleX(0.9683);transform-origin:0 0;">(severe pain) red. VNS mean:</div>
<div class="cap" style="left:586.40px;top:390.90px;font-size:9.5px;transform:scaleX(1.0025);transform-origin:0 0;color:#e5232b;">mean &gt; 3</div>
<div class="cap" style="left:629.30px;top:390.90px;font-size:9.5px;transform:scaleX(0.9608);transform-origin:0 0;">red.</div>
<div class="cap" style="left:648.10px;top:390.90px;font-size:9.5px;transform:scaleX(0.9798);transform-origin:0 0;color:#8061b0;">Purple</div>
<div class="cap" style="left:677.60px;top:390.90px;font-size:9.5px;transform:scaleX(0.9720);transform-origin:0 0;">bars:</div>
<div class="cap" style="left:-0.40px;top:400.90px;font-size:9.5px;transform:scaleX(0.9707);transform-origin:0 0;">patients operated the previous day.</div>
<div class="cap" style="left:146.50px;top:400.90px;font-size:9.5px;transform:scaleX(0.9517);transform-origin:0 0;">Double purple line:</div>
<div class="cap" style="left:226.50px;top:400.90px;font-size:9.5px;transform:scaleX(0.9908);transform-origin:0 0;">patients operated during their stay.</div>
<div class="cap" style="left:-0.40px;top:431.70px;font-size:10.0px;transform:scaleX(0.9931);transform-origin:0 0;"><b>Fig. 2.</b></div>
<div class="cap" style="left:33.40px;top:431.70px;font-size:10.0px;transform:scaleX(0.9891);transform-origin:0 0;">Partial view of the "Pain map". Traffic light of pain.</div>
<div style="left:0px;top:428.9px;width:700px;height:1.1px;background:#7a7a7a;"></div>
</body></html>
